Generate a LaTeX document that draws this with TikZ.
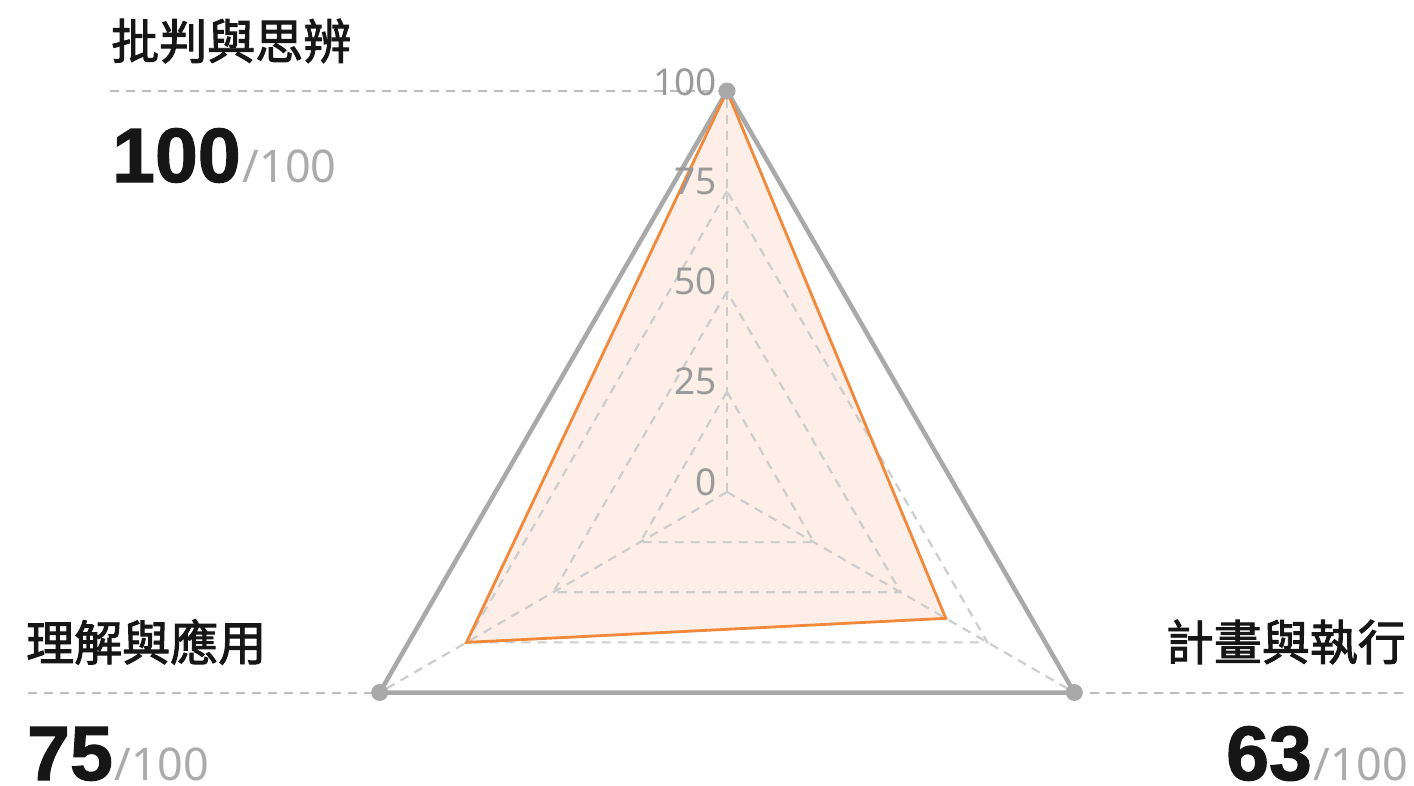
\documentclass[tikz,border=0pt]{standalone}
\usepackage{fontspec}
\usetikzlibrary{calc}
\newfontfamily\cjk[FakeBold=2]{Noto Sans CJK TC}
\newfontfamily\numfont{Noto Sans}
\newfontfamily\numbold[FakeBold=1.5]{Liberation Sans Bold}
\definecolor{outergray}{HTML}{A9A9A9}
\definecolor{griddash}{HTML}{CDCDCD}
\definecolor{leader}{HTML}{BDBDBD}
\definecolor{dataor}{HTML}{F2883A}
\definecolor{datafill}{HTML}{FDEFE7}
\definecolor{scalegray}{HTML}{9A9A9A}
\definecolor{subgray}{HTML}{ABABAB}
\definecolor{textdark}{HTML}{161616}
\tikzset{
  gridline/.style={draw=griddash, line width=2.2pt, dash pattern=on 9pt off 7pt},
  leaderline/.style={draw=leader, line width=2pt, dash pattern=on 9pt off 7pt},
  outerline/.style={draw=outergray, line width=4.5pt, line join=round},
  dataline/.style={draw=dataor, line width=2.8pt, line join=miter},
  vdot/.style={circle, fill=outergray, inner sep=0pt, minimum size=17pt},
  axlabel/.style={font=\cjk\fontsize{48}{48}\selectfont, text=textdark, inner sep=0pt},
  scorelabel/.style={inner sep=0pt, text=textdark},
  scalelabel/.style={font=\numfont\fontsize{37}{37}\selectfont, text=scalegray, inner sep=0pt, anchor=base east},
}
\newcommand{\scoretext}[1]{{\numbold\fontsize{77}{77}\selectfont #1}{\numfont\fontsize{45}{45}\selectfont\color{subgray}\hspace{2pt}/100}}
\begin{document}
\begin{tikzpicture}[x=1pt,y=-1pt]
\useasboundingbox (0,0) rectangle (1414,785);
\fill[white] (0,0) rectangle (1414,785);
% geometry
\coordinate (C) at (727,492);
\coordinate (A) at (727,91);
\coordinate (B) at (379.7,692.5);
\coordinate (D) at (1074.3,692.5);
\coordinate (P1) at ($(C)!1!(A)$);
\coordinate (P2) at ($(C)!0.75!(B)$);
\coordinate (P3) at ($(C)!0.63!(D)$);
% data fill
\fill[datafill] (P1) -- (P2) -- (P3) -- cycle;
% grid rings
\foreach \f in {0.25,0.5,0.75}{
  \draw[gridline] ($(C)!\f!(A)$) -- ($(C)!\f!(B)$) -- ($(C)!\f!(D)$) -- cycle;
}
% axes
\draw[gridline] (C) -- (A);
\draw[gridline] (C) -- (B);
\draw[gridline] (C) -- (D);
% leader lines
\coordinate (LA) at (110,91);
\coordinate (LB) at (28,692.5);
\coordinate (LD) at (1410,692.5);
\draw[leaderline] (LA) -- (A);
\draw[leaderline] (LB) -- (B);
\draw[leaderline] (D) -- (LD);
% outer ring
\draw[outerline] (A) -- (B) -- (D) -- cycle;
% data line
\draw[dataline] (P1) -- (P2) -- (P3) -- cycle;
% vertex dots
\node[vdot] (dA) at (A) {};
\node[vdot] (dB) at (B) {};
\node[vdot] (dD) at (D) {};
% scale labels
\node[scalelabel] (s0) at ($(C)+(-10,3)$) {0};
\node[scalelabel] (s25) at ($(C)!0.25!(A)+(-10,3)$) {25};
\node[scalelabel] (s50) at ($(C)!0.5!(A)+(-10,3)$) {50};
\node[scalelabel] (s75) at ($(C)!0.75!(A)+(-10,3)$) {75};
\node[scalelabel] (s100) at ($(A)+(-10,4)$) {100};
% axis labels
\node[axlabel, anchor=west] (tA) at (111,41) {批判與思辨};
\node[axlabel, anchor=west] (tB) at (26,642) {理解與應用};
\node[axlabel, anchor=east] (tD) at (1406,642) {計畫與執行};
% scores
\node[scorelabel, anchor=base west] (nA) at (112,182) {\scoretext{100}};
\node[scorelabel, anchor=base west] (nB) at (27,780) {\scoretext{75}};
\node[scorelabel, anchor=base east] (nD) at (1408,780) {\scoretext{63}};
\end{tikzpicture}
\end{document}
